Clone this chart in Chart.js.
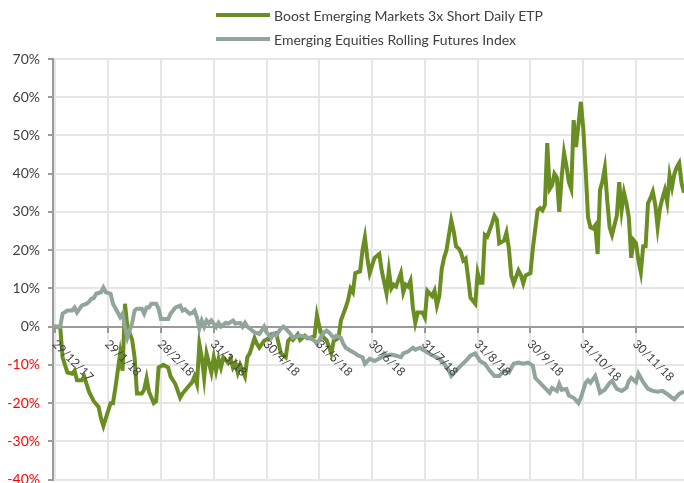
<!DOCTYPE html>
<html>
<head>
<meta charset="utf-8">
<script src="https://cdn.jsdelivr.net/npm/chart.js@4.4.1/dist/chart.umd.min.js"></script>
<style>
  body { margin: 0; background: #fff; font-family: Lato, "Open Sans", sans-serif; overflow: hidden; }
  #wrap { position: relative; width: 684px; height: 483px; overflow: hidden; }
  #legend { position: absolute; left: 216px; top: 3px; color: #404040; font-size: 14px; }
  .item { display: flex; align-items: center; height: 24px; }
  .swatch { width: 54px; height: 4px; margin-right: 4px; }
</style>
</head>
<body>
<div id="wrap">
  <canvas id="chart" width="684" height="496"></canvas>
  <div id="legend">
    <div class="item"><span class="swatch" style="background:#6a8e22"></span>Boost Emerging Markets 3x Short Daily ETP</div>
    <div class="item"><span class="swatch" style="background:#91a59b"></span>Emerging Equities Rolling Futures Index</div>
  </div>
</div>
<script>
// x axis ticks (trading day index) and their labels
const tickDays = [1, 23, 45, 67, 89, 111, 133, 155, 177, 199, 221, 243];
const tickLabels = ["29/12/17", "29/1/18", "28/2/18", "31/3/18", "30/4/18", "31/5/18",
  "30/6/18", "31/7/18", "31/8/18", "30/9/18", "31/10/18", "30/11/18"];

// Boost Emerging Markets 3x Short Daily ETP (%)
const etpDays = [0,3,4,6,8,9,10,12,13,15,17,19,20,21,22,24,25,26,27,28,29,30,31,33,34,35,37,38,39,40,
  42,43,44,46,48,49,51,53,54,56,58,59,60,61,62,63,64,66,67,68,69,70,71,73,74,75,76,77,78,80,
  81,82,84,85,86,88,90,91,93,95,97,98,99,100,102,103,105,106,107,109,110,111,112,113,114,116,117,119,120,122,
  123,124,125,126,128,129,130,131,132,134,136,137,139,140,141,142,143,145,146,147,148,149,150,151,152,154,155,156,158,159,
  160,161,162,163,164,166,167,168,169,170,171,172,173,174,176,177,178,179,180,181,183,184,185,186,188,189,190,191,192,194,
  195,196,197,199,200,202,203,204,205,206,207,208,209,210,211,212,213,214,215,216,217,218,219,220,221,222,223,224,225,226,
  227,228,229,230,231,232,233,234,235,236,237,238,239,240,241,242,243,244,245,246,247,248,249,250,251,252,253,254,255,256,
  257,258,259,260,261,262,263];
const etpValues = [0,0,-8,-12,-12.3,-11.5,-14,-14,-13,-17,-19.5,-21,-24,-26,-24,-20,-20,-16,-11.5,-7,-11.5,6,0,-3.5,-8,-17.5,-17.5,-16.5,-13.5,-17,
  -20,-19.5,-10.7,-10,-10.7,-13,-15,-18.6,-17.5,-16,-14.5,-13,-15,-4.5,-8,-13.4,-7,-12,-8,-11.5,-8.5,-10.7,-8,-9.5,-8.3,-10.7,-9.5,-12,-10,-13,
  -8,-7,-3,-4.5,-5.5,-3.7,-3,-2,-1.7,-7,-8,-3.7,-3,-3.5,-2,-3.5,-2.4,-3,-3,-2.5,3,0,-2,-3,-3.5,-7,-3.7,-3,1.6,5,
  7,10,9,14,14.5,20,23.4,18,14,18,19,14.7,8.7,14.7,10,11,10.5,14,9,11,10.5,12,5,1,3.7,3.7,2.4,9.4,8,9.4,
  5.5,8,15,18,20,27.8,25,21,20.5,19.5,17.3,17.8,12.9,7.6,6,14,11.5,11.5,24,23.5,27,29,28,21.8,22.5,24.6,20.5,13.4,11.3,14.7,
  13.5,11.3,13.4,14,20.5,30.5,31,30.4,31.8,48,36,37,40,39,30,39,45.5,42,37.8,36,54,47,52.7,58.8,52,41,28.6,26,25.7,26.5,
  19,35.7,38,41.5,33,26,24,26.5,29,37.8,30.4,35,32.3,28.6,18,22.6,21.8,17.3,14.2,21,21,32.3,33.6,35.3,32,26,31,33.6,35.7,32.5,
  39.6,36.5,40,41.7,42.8,37.5,35];

// Emerging Equities Rolling Futures Index (%)
const indexDays = [0,3,4,6,8,9,10,12,14,15,16,17,18,20,21,22,24,25,27,28,29,30,31,32,33,34,35,37,38,39,
  40,41,43,44,45,48,49,51,53,54,55,57,58,59,60,61,62,63,64,65,66,68,69,70,72,73,75,76,78,79,
  80,81,83,84,86,87,88,89,91,92,93,95,96,97,99,100,102,103,105,106,107,109,110,112,113,114,115,117,118,120,
  121,122,124,126,127,129,130,132,134,137,138,139,141,143,145,146,148,150,151,153,154,156,158,161,163,165,166,168,170,172,
  174,176,178,180,182,184,186,188,190,192,194,196,198,200,201,203,205,207,208,210,211,212,214,215,217,219,220,222,223,224,
  226,227,228,230,232,233,235,237,239,240,241,243,244,246,248,250,252,254,256,258,259,261,263];
const indexValues = [0,0,3.4,4.2,4.2,5,3.7,5.5,6,6.5,7.3,7.5,8.6,9,10.2,9,8.6,6,3.7,2.5,3.4,0,-2.9,-1,1,4.2,4.7,4.7,3.4,5,
  5,6,6,4.7,2,2,3.4,5,5.5,4.2,4.5,3.4,3.6,4.2,2.4,-0.5,1.6,0,1.6,0.8,1.6,-0.1,1,0,1,0.8,1.6,0.8,1,0,
  1,0,-1,-1.5,-1.9,-1,0,-1.5,-2.9,-1.9,-2.3,-0.5,0,-0.5,-1.9,-2.9,-2.4,-2.4,-2.6,-2.9,-2.9,-3.7,-4.5,-2.4,-1.5,-1,-1.5,-2.9,-2.4,-2.9,
  -4.5,-5.5,-6.3,-7,-7.5,-8,-9.7,-8.4,-9,-8,-7,-7.6,-7.3,-7.6,-8,-7,-6.5,-5.5,-6,-5.5,-6,-6.7,-7.5,-8.4,-9.7,-11.5,-12.9,-11.5,-10.2,-9,
  -7.6,-7,-9,-9.7,-11.5,-12.9,-12.9,-11.5,-12,-9.7,-9.4,-9.7,-9.4,-10.2,-13.4,-14.7,-16,-17.3,-16,-16.8,-15,-16.5,-16.3,-18,-18.6,-20,-18.6,-14.7,-14,-14.7,
  -12.9,-15,-17.3,-16.5,-14.7,-14.2,-16.3,-16.8,-16,-14.2,-13.4,-14.5,-12.3,-14.5,-16.3,-16.8,-17,-16.8,-17.6,-18.6,-19,-17.6,-17];

const toPoints = (days, vals) => days.map((d, i) => ({ x: d, y: vals[i] }));

// ✅ x labels are drawn rotated downwards from each tick
const xLabelPlugin = {
  id: "xLabels",
  afterDraw(chart) {
    const { ctx, scales } = chart;
    const zeroY = scales.y.getPixelForValue(0);
    ctx.save();
    ctx.font = "12px Lato, 'Open Sans', sans-serif";
    ctx.fillStyle = "#404040";
    ctx.textAlign = "left";
    ctx.textBaseline = "top";
    tickDays.forEach((d, i) => {
      const px = scales.x.getPixelForValue(d);
      ctx.save();
      ctx.translate(px + 3, zeroY + 11);
      ctx.rotate(Math.PI / 4);
      ctx.fillText(tickLabels[i], 0, 0);
      ctx.restore();
    });
    ctx.restore();
  }
};

new Chart(document.getElementById("chart"), {
  type: "line",
  data: {
    datasets: [
      {
        label: "Boost Emerging Markets 3x Short Daily ETP",
        data: toPoints(etpDays, etpValues),
        borderColor: "#6a8e22",
        borderWidth: 4,
        pointRadius: 0,
        tension: 0,
        order: 1
      },
      {
        label: "Emerging Equities Rolling Futures Index",
        data: toPoints(indexDays, indexValues),
        borderColor: "#91a59b",
        borderWidth: 4,
        pointRadius: 0,
        tension: 0,
        order: 0
      }
    ]
  },
  options: {
    responsive: false,
    animation: false,
    layout: { padding: { top: 59, right: 0, bottom: 0, left: 0 } },
    plugins: {
      legend: { display: false },
      tooltip: { enabled: false }
    },
    scales: {
      x: {
        type: "linear",
        position: { y: 0 },
        min: 0,
        max: 263,
        afterBuildTicks: s => { s.ticks = tickDays.map(v => ({ value: v })); },
        ticks: { display: false },
        grid: { color: "#e6e6e6", lineWidth: 2, tickLength: 5, tickColor: "#9a9a9a" },
        border: { color: "#9a9a9a", width: 2 }
      },
      y: {
        min: -40,
        max: 70,
        afterFit: s => { s.width = 53; },
        ticks: {
          stepSize: 10,
          padding: 8,
          color: c => (c.tick.value < 0 ? "#ff0000" : "#404040"),
          font: { family: "Lato, 'Open Sans', sans-serif", size: 14 },
          callback: v => v + "%"
        },
        grid: { color: "#e6e6e6", lineWidth: 2, tickLength: 5, tickColor: "#9a9a9a" },
        border: { color: "#9a9a9a", width: 2 }
      }
    }
  },
  plugins: [xLabelPlugin]
});
</script>
</body>
</html>
